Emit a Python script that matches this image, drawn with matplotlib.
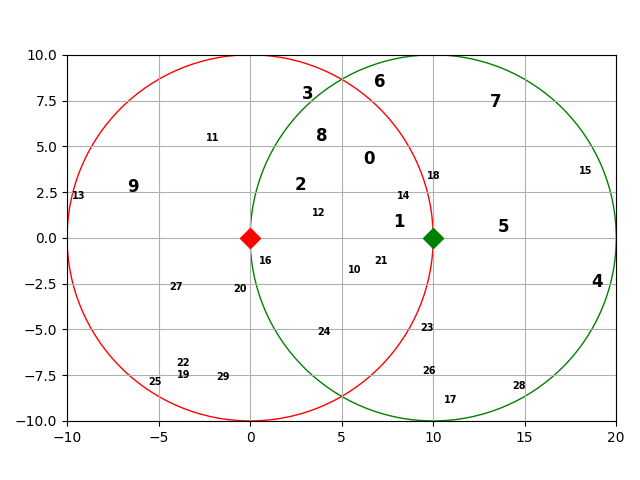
import matplotlib.pyplot as plt

# circle centres and radius
centers_x = [0, 10]
centers_y = [0, 0]
center_colors = ['red', 'green']
radius = 10

# labelled points (label = index)
pts_x = [6.50, 8.14, 2.77, 3.17, 18.94, 13.83, 7.10, 13.39, 3.92, -6.41,
         5.72, -2.06, 3.77, -9.38, 8.40, 18.34, 0.86, 10.98, 10.04, -3.62,
         -0.53, 7.14, -3.68, 9.66, 4.03, -5.21, 9.77, -4.06, 14.68, -1.51]
pts_y = [4.30, 0.89, 2.90, 7.85, -2.40, 0.58, 8.49, 7.41, 5.57, 2.77,
         -1.73, 5.48, 1.35, 2.31, 2.31, 3.64, -1.29, -8.84, 3.40, -7.49,
         -2.77, -1.24, -6.81, -4.95, -5.14, -7.85, -7.25, -2.66, -8.07, -7.61]

fig, ax = plt.subplots(figsize=(6.4, 4.8), dpi=100)

for cx, cy, c in zip(centers_x, centers_y, center_colors):
    ax.add_patch(plt.Circle((cx, cy), radius, color=c, fill=False))
    ax.plot(cx, cy, 'D', color=c, markersize=10)

for i, (x, y) in enumerate(zip(pts_x, pts_y)):
    size = 12 if i < 10 else 7
    ax.text(x, y, str(i), fontsize=size, fontweight='bold', ha='center', va='center')

ax.set_xlim(-10, 20)
ax.set_ylim(-10, 10)
ax.set_aspect('equal')
ax.grid(True)
plt.tight_layout()
plt.savefig('out.png')
